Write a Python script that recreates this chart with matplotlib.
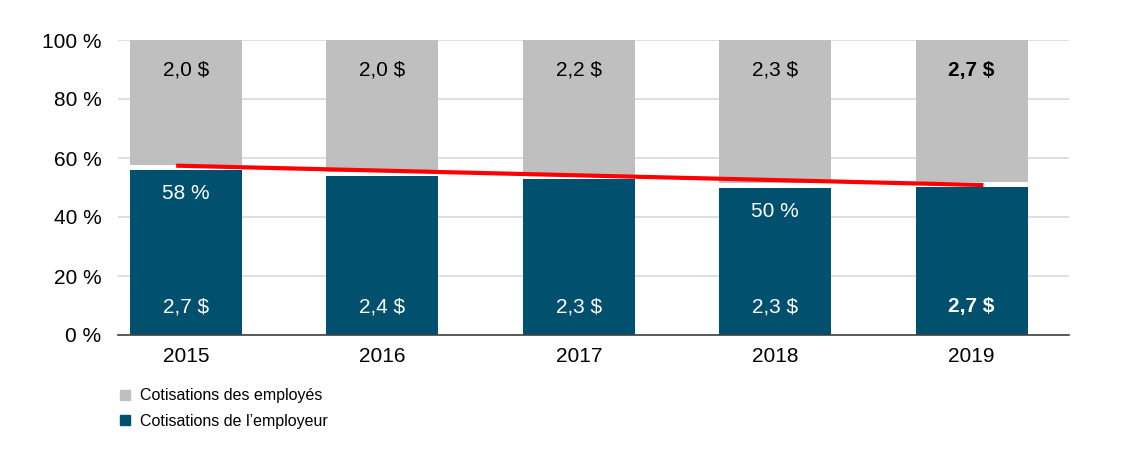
import numpy as np
import matplotlib; matplotlib.use("Agg")
import matplotlib.pyplot as plt
from matplotlib.patches import Patch

years = ["2015", "2016", "2017", "2018", "2019"]
employer_amt = ["2,7 $", "2,4 $", "2,3 $", "2,3 $", "2,7 $"]
employee_amt = ["2,0 $", "2,0 $", "2,2 $", "2,3 $", "2,7 $"]
employer_pct = [57.7, 55.4, 54.4, 51.4, 51.7]   # share of employer
pct_labels = {0: "58 %", 3: "50 %"}
bold_years = {4}

BLUE = "#00506e"
GRAY = "#bfbfbf"

plt.rcParams["font.family"] = ["Liberation Sans Narrow", "Liberation Sans", "DejaVu Sans"]

fig = plt.figure(figsize=(11.4, 4.66), dpi=100)
ax = fig.add_axes([118 / 1140, 1 - 335 / 466, (1069 - 118) / 1140, 295 / 466])

x = np.arange(len(years))
share = np.array(employer_pct)
gap = 1.6
w = 0.57
ax.bar(x, share - gap, width=w, color=BLUE, zorder=2)
ax.bar(x, 100 - share, bottom=share, width=w, color=GRAY, zorder=2)

# linear trend of the employer share
a, b = np.polyfit(x, share, 1)
xt = np.array([-0.05, 4.06])
ax.plot(xt, a * xt + b, color="#ff0000", lw=3, solid_capstyle="butt", zorder=3)

fs = 15
for i in x:
    fw = "bold" if i in bold_years else "normal"
    ax.text(i, 89.8, employee_amt[i], ha="center", va="center", fontsize=fs,
            color="black", fontweight=fw, zorder=4)
    ax.text(i, 9.5, employer_amt[i], ha="center", va="center", fontsize=fs,
            color="white", fontweight=fw, zorder=4)
    if i in pct_labels:
        ax.text(i, share[i] - gap - 8, pct_labels[i], ha="center", va="center",
                fontsize=fs, color="white", zorder=4)

ax.set_xlim(-0.346, 4.496)
ax.set_ylim(0, 100)
ax.set_yticks(range(0, 101, 20))
ax.set_yticklabels([f"{v} %" for v in range(0, 101, 20)])
ax.set_xticks(x)
ax.set_xticklabels(years)
ax.tick_params(axis="both", length=0, labelsize=fs, colors="black")
ax.tick_params(axis="x", pad=9)
ax.tick_params(axis="y", pad=12)
ax.grid(axis="y", color="#d9d9d9", lw=1.2, zorder=0)
for s in ["top", "right", "left"]:
    ax.spines[s].set_visible(False)
ax.spines["bottom"].set_color("#404040")
ax.spines["bottom"].set_linewidth(1.2)
ax.spines["bottom"].set_zorder(5)

handles = [Patch(color=GRAY, label="Cotisations des employés"),
           Patch(color=BLUE, label="Cotisations de l\u2019employeur")]
fig.legend(handles=handles, loc="upper left", bbox_to_anchor=(106 / 1140, 1 - 374 / 466),
           frameon=False, fontsize=11.5, handlelength=0.6, handleheight=0.6,
           handletextpad=0.6, labelspacing=0.65)

fig.savefig("out.png", dpi=100)
